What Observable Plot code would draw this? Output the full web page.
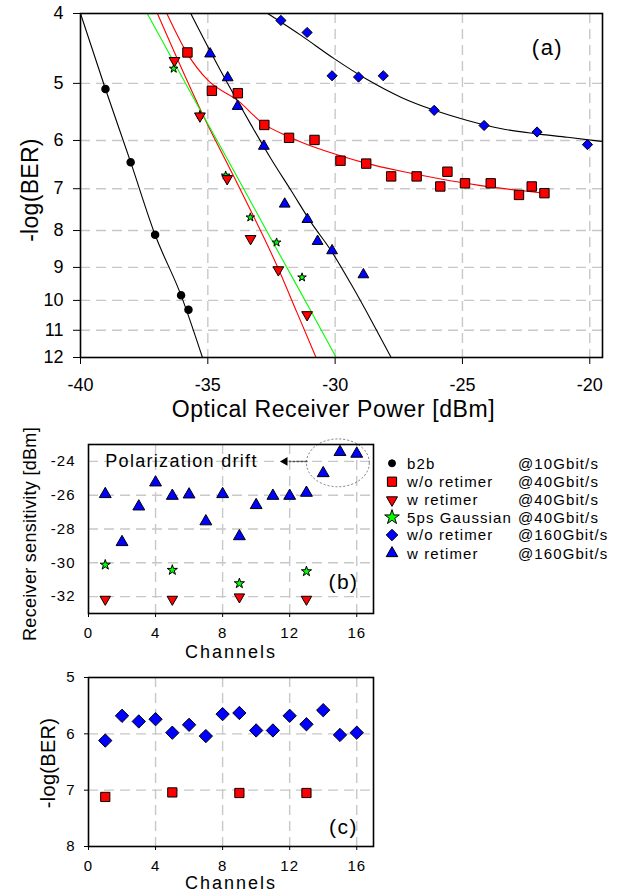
<!DOCTYPE html>
<html><head><meta charset="utf-8">
<script src="https://cdn.jsdelivr.net/npm/d3@7"></script>
<script src="https://cdn.jsdelivr.net/npm/@observablehq/plot@0.6"></script>
<style>
body{margin:0;background:#fff;}
#wrap{position:relative;width:635px;height:895px;overflow:hidden;background:#fff;}
.vlabel{position:absolute;white-space:nowrap;line-height:1;color:#000;transform:translate(-50%,-50%) rotate(-90deg);font-family:'Liberation Sans',Arial,Helvetica,sans-serif;}
</style></head><body><div id="wrap"></div>
<script>
// ---------- Panel (a): BER vs optical receiver power ----------
const powerTicks = [-40, -35, -30, -25, -20];
const powerGrid = [-35, -30, -25, -20];
const berTicksA = [4, 5, 6, 7, 8, 9, 10, 11, 12];
const berGridA = [5, 6, 7, 8, 9, 10, 11];

// b2b @10Gbit/s
const b2bP = [-39.02, -38.03, -37.07, -36.05, -35.76];
const b2bB = [5.09, 6.43, 8.11, 9.84, 10.3];
// w/o retimer @40Gbit/s
const wo40P = [-35.8, -34.84, -33.82, -32.78, -31.81, -30.81, -29.79, -28.78, -27.8, -26.8, -25.87, -25.59, -24.9, -23.89, -22.78, -22.28, -21.78];
const wo40B = [4.53, 5.12, 5.16, 5.71, 5.95, 5.99, 6.40, 6.46, 6.73, 6.73, 6.95, 6.63, 6.88, 6.88, 7.14, 6.95, 7.10];
// w retimer @40Gbit/s
const w40P = [-36.31, -35.31, -34.24, -33.32, -32.23, -31.1];
const w40B = [4.65, 5.55, 6.78, 8.21, 9.07, 10.47];
// 5ps Gaussian @40Gbit/s
const gaussP = [-36.34, -35.31, -34.3, -33.33, -32.3, -31.3];
const gaussB = [4.77, 5.53, 6.71, 7.67, 8.31, 9.29];
// w/o retimer @160Gbit/s
const wo160P = [-32.13, -31.1, -30.12, -29.08, -28.11, -26.11, -24.15, -22.07, -20.09];
const wo160B = [4.09, 4.25, 4.88, 4.90, 4.88, 5.45, 5.72, 5.84, 6.08];
// w retimer @160Gbit/s
const w160P = [-34.91, -34.22, -33.83, -32.8, -31.98, -31.09, -30.69, -30.12, -28.89];
const w160B = [4.55, 4.91, 5.38, 6.11, 7.35, 7.72, 8.28, 8.53, 9.21];

// fitted curves
const fitB2bP = [-40, -39.02, -38.03, -37.07, -36.05, -35.21];
const fitB2bB = [4, 5.09, 6.43, 8.11, 9.84, 12];
const fitWo40P = [-36.61, -35.8, -35.0, -33.83, -32.78, -31.86, -31.3, -29.8, -28.8, -27.4, -25.9, -24.4, -22.9, -21.8];
const fitWo40B = [4, 4.55, 4.95, 5.28, 5.7, 5.92, 6.04, 6.3, 6.45, 6.62, 6.78, 6.92, 7.03, 7.1];
const fitW40P = [-36.98, -35.15, -33.9, -32.26, -31.5, -30.75];
const fitW40B = [4, 5.57, 6.82, 8.99, 10.39, 12];
const fitGaussP = [-37.38, -35.28, -33.7, -32.13, -30.94, -29.96];
const fitGaussB = [4, 5.46, 6.89, 8.7, 10.36, 12];
const fitWo160P = [-32.65, -31.34, -30.04, -28.74, -27.4, -26.1, -24.8, -23.46, -22.17, -20.87, -19.5];
const fitWo160B = [4, 4.29, 4.62, 4.94, 5.23, 5.45, 5.63, 5.78, 5.87, 5.94, 6.02];
const fitW160P = [-35.67, -34.88, -34.09, -33.31, -32.52, -31.73, -30.94, -30.16, -29.37, -28.58, -27.8];
const fitW160B = [4, 4.53, 5.10, 5.70, 6.36, 7.04, 7.80, 8.53, 9.50, 10.66, 12];

// ---------- Panel (b): receiver sensitivity vs channel ----------
const channels = [1, 2, 3, 4, 5, 6, 7, 8, 9, 10, 11, 12, 13, 14, 15, 16];
const sampledChannels = [1, 5, 9, 13];
const chTicks = [0, 4, 8, 12, 16];
const chGrid = [4, 8, 12, 16];
const sensTicks = [-24, -26, -28, -30, -32];
const sensW160 = [-25.94, -28.78, -26.67, -25.25, -26.04, -25.96, -27.55, -25.94, -28.43, -26.59, -26.04, -26.04, -25.86, -24.7, -23.45, -23.55];
const sensGauss = [-30.12, -30.43, -31.22, -30.51];
const sensW40 = [-32.16, -32.16, -32.02, -32.16];

// ---------- Panel (c): -log(BER) vs channel ----------
const berTicksC = [5, 6, 7, 8];
const berGridC = [6, 7];
const berWo160 = [6.12, 5.68, 5.78, 5.74, 5.98, 5.84, 6.04, 5.65, 5.63, 5.94, 5.94, 5.68, 5.83, 5.58, 6.02, 5.98];
const berWo40 = [7.12, 7.04, 7.05, 7.05];

// ---------- Legend and titles ----------
const seriesNames = ["b2b", "w/o retimer", "w retimer", "5ps Gaussian", "w/o retimer", "w retimer"];
const seriesRates = ["@10Gbit/s", "@40Gbit/s", "@40Gbit/s", "@40Gbit/s", "@160Gbit/s", "@160Gbit/s"];
const titleBER = "-log(BER)";
const titlePower = "Optical Receiver Power [dBm]";
const titleSens = "Receiver sensitivity [dBm]";
const titleChannels = "Channels";
const annotation = "Polarization drift";

// ---------- helpers ----------
const FONT = "'Liberation Sans', Arial, Helvetica, sans-serif";
const RED = "#ff0000", BLUE = "#0000ff", GREEN = "#00ff00", GRID = "#c8c8c8";
const pts = (xs, ys) => xs.map((x, i) => ({x, y: ys[i]}));
const wrap = document.getElementById("wrap");
function place(el, left, top) {
  el.style.position = "absolute";
  el.style.left = left + "px";
  el.style.top = top + "px";
  wrap.appendChild(el);
  return el;
}
function vlabel(text, cx, cy, size, ls) {
  const d = document.createElement("div");
  d.className = "vlabel";
  d.textContent = text;
  d.style.left = cx + "px";
  d.style.top = cy + "px";
  d.style.fontSize = size + "px";
  d.style.letterSpacing = (ls || 0) + "px";
  wrap.appendChild(d);
}
function spacing(svg, text, ls) {
  d3.select(svg).selectAll("text").filter(function () { return this.textContent === text; }).attr("letter-spacing", ls);
}
const label = (txt, opts) => Plot.text([txt], {text: d => d, textAnchor: "middle", lineAnchor: "middle", ...opts});
const fitLine = (xs, ys, stroke) => Plot.line(pts(xs, ys), {x: "x", y: "y", stroke, strokeWidth: 1.1, curve: "monotone-x"});
const gridV = (vals) => Plot.ruleX(vals, {stroke: GRID, strokeWidth: 1.4, strokeDasharray: "10,6"});
const gridH = (vals) => Plot.ruleY(vals, {stroke: GRID, strokeWidth: 1.4, strokeDasharray: "10,6"});

// ---------- Panel (a) ----------
const plotA = Plot.plot({
  width: 635, height: 425,
  marginTop: 13, marginLeft: 80, marginRight: 33, marginBottom: 68,
  style: {fontFamily: FONT, fontSize: "18px", color: "black", background: "transparent", overflow: "visible"},
  x: {domain: [-40, -19.5], ticks: powerTicks, tickFormat: d => String(d), tickSize: 7, tickPadding: 14, label: null},
  y: {type: "log", domain: [4, 12], reverse: true, ticks: berTicksA, tickFormat: d => String(d), tickSize: 7, tickPadding: 10, label: null},
  marks: [
    gridV(powerGrid),
    gridH(berGridA),
    fitLine(fitB2bP, fitB2bB, "black"),
    fitLine(fitWo40P, fitWo40B, RED),
    fitLine(fitW40P, fitW40B, RED),
    fitLine(fitGaussP, fitGaussB, GREEN),
    fitLine(fitWo160P, fitWo160B, "black"),
    fitLine(fitW160P, fitW160B, "black"),
    Plot.dot(pts(b2bP, b2bB), {x: "x", y: "y", r: 3.5, fill: "black", stroke: "black"}),
    Plot.dot(pts(wo40P, wo40B), {x: "x", y: "y", symbol: "square", r: 5.3, fill: RED, stroke: "black", strokeWidth: 1}),
    Plot.dot(pts(w160P, w160B), {x: "x", y: "y", symbol: "triangle", r: 4, fill: BLUE, stroke: "black", strokeWidth: 1}),
    Plot.dot(pts(wo160P, wo160B), {x: "x", y: "y", symbol: "diamond2", r: 4.6, fill: BLUE, stroke: "black", strokeWidth: 1}),
    Plot.dot(pts(gaussP, gaussB), {x: "x", y: "y", symbol: "star", r: 2.7, fill: GREEN, stroke: "black", strokeWidth: 1}),
    Plot.dot(pts(w40P, w40B), {x: "x", y: "y", symbol: "triangle", rotate: 180, r: 4, fill: RED, stroke: "black", strokeWidth: 1}),
    Plot.frame({stroke: "black", strokeWidth: 1.6}),
    label("(a)", {frameAnchor: "top-right", dx: -55, dy: 34, fontSize: 22}),
    label(titlePower, {frameAnchor: "bottom", dx: -8, dy: 52, fontSize: 23})
  ]
});
spacing(plotA, titlePower, 0.6);
spacing(plotA, "(a)", 1.5);
place(plotA, 0, 0);
vlabel(titleBER, 30, 190, 23, 0.3);

// ---------- Panel (b) ----------
function ellipseMark(x0, x1, y0, y1) {
  return (index, scales) => {
    const X = scales.x, Y = scales.y;
    return d3.create("svg:ellipse")
      .attr("cx", (X(x0) + X(x1)) / 2).attr("cy", (Y(y0) + Y(y1)) / 2)
      .attr("rx", Math.abs(X(x1) - X(x0)) / 2).attr("ry", Math.abs(Y(y1) - Y(y0)) / 2)
      .attr("fill", "none").attr("stroke", "#777").attr("stroke-width", 1)
      .attr("stroke-dasharray", "2,2").node();
  };
}
const plotB = Plot.plot({
  width: 380, height: 245,
  marginTop: 24, marginLeft: 88, marginRight: 7, marginBottom: 52,
  style: {fontFamily: FONT, fontSize: "15px", color: "black", background: "transparent", overflow: "visible"},
  x: {domain: [0, 17], ticks: chTicks, tickFormat: d => String(d), tickSize: 4, tickPadding: 10, label: null},
  y: {domain: [-33, -23], ticks: sensTicks, tickFormat: d => String(d), tickSize: 0, tickPadding: 13, label: null},
  marks: [
    gridV(chGrid),
    gridH(sensTicks),
    ellipseMark(13.03, 16.78, -25.53, -22.7),
    Plot.line([{x: 13.03, y: -24}, {x: 12.0, y: -24}], {x: "x", y: "y", stroke: "#555", strokeDasharray: "2,2"}),
    Plot.dot([{x: 11.72, y: -24}], {x: "x", y: "y", symbol: "triangle", rotate: -90, r: 3.2, fill: "black"}),
    Plot.text([annotation], {text: d => d, x: 1.0, y: -24, textAnchor: "start", lineAnchor: "middle", fontSize: 18}),
    Plot.dot(pts(channels, sensW160), {x: "x", y: "y", symbol: "triangle", r: 4.4, fill: BLUE, stroke: "black", strokeWidth: 1}),
    Plot.dot(pts(sampledChannels, sensGauss), {x: "x", y: "y", symbol: "star", r: 3.2, fill: GREEN, stroke: "black", strokeWidth: 1}),
    Plot.dot(pts(sampledChannels, sensW40), {x: "x", y: "y", symbol: "triangle", rotate: 180, r: 3.9, fill: RED, stroke: "black", strokeWidth: 1}),
    Plot.frame({stroke: "black", strokeWidth: 1.6}),
    label("(b)", {frameAnchor: "bottom-right", dx: -30, dy: -31, fontSize: 21}),
    label(titleChannels, {frameAnchor: "bottom", dy: 39, fontSize: 18})
  ]
});
spacing(plotB, annotation, 1.3);
spacing(plotB, titleChannels, 2);
spacing(plotB, "(b)", 1.5);
d3.select(plotB).selectAll("g[aria-label='x-axis tick label'] text, g[aria-label='y-axis tick label'] text").attr("letter-spacing", 1);
place(plotB, 0, 420);
vlabel(titleSens, 30, 534, 18, 0.3);

// ---------- Legend ----------
const legendSyms = [
  {type: d3.symbolCircle, r: 3.5, fill: "black", rot: 0},
  {type: d3.symbolSquare, r: 5.2, fill: RED, rot: 0},
  {type: d3.symbolTriangle, r: 4.1, fill: RED, rot: 180},
  {type: d3.symbolStar, r: 4.6, fill: GREEN, rot: 0},
  {type: d3.symbolDiamond2, r: 5.2, fill: BLUE, rot: 0},
  {type: d3.symbolTriangle, r: 4.3, fill: BLUE, rot: 0}
];
const rowY = [13.3, 31.7, 50, 67.3, 85, 103.3];
const leg = d3.create("svg").attr("width", 255).attr("height", 115)
  .style("font-family", FONT).style("font-size", "15px");
seriesNames.forEach((name, i) => {
  const s = legendSyms[i];
  leg.append("path")
    .attr("d", d3.symbol(s.type, Math.PI * s.r * s.r)())
    .attr("transform", `translate(12,${rowY[i]}) rotate(${s.rot})`)
    .attr("fill", s.fill).attr("stroke", "black").attr("stroke-width", 1);
  leg.append("text").attr("x", 27).attr("y", rowY[i]).attr("dy", "0.35em")
    .attr("letter-spacing", 1.1).text(name);
  leg.append("text").attr("x", 138).attr("y", rowY[i]).attr("dy", "0.35em")
    .attr("letter-spacing", 1.1).text(seriesRates[i]);
});
place(leg.node(), 380, 450);

// ---------- Panel (c) ----------
const plotC = Plot.plot({
  width: 380, height: 230,
  marginTop: 12, marginLeft: 88, marginRight: 7, marginBottom: 49,
  style: {fontFamily: FONT, fontSize: "15px", color: "black", background: "transparent", overflow: "visible"},
  x: {domain: [0, 17], ticks: chTicks, tickFormat: d => String(d), tickSize: 4, tickPadding: 10, label: null},
  y: {domain: [5, 8], reverse: true, ticks: berTicksC, tickFormat: d => String(d), tickSize: 4, tickPadding: 9, label: null},
  marks: [
    gridV(chGrid),
    gridH(berGridC),
    Plot.dot(pts(channels, berWo160), {x: "x", y: "y", symbol: "diamond2", r: 6, fill: BLUE, stroke: "black", strokeWidth: 1}),
    Plot.dot(pts(sampledChannels, berWo40), {x: "x", y: "y", symbol: "square", r: 5.2, fill: RED, stroke: "black", strokeWidth: 1}),
    Plot.frame({stroke: "black", strokeWidth: 1.6}),
    label("(c)", {frameAnchor: "bottom-right", dx: -30, dy: -19, fontSize: 21}),
    label(titleChannels, {frameAnchor: "bottom", dy: 37, fontSize: 18})
  ]
});
spacing(plotC, titleChannels, 2);
spacing(plotC, "(c)", 1.5);
d3.select(plotC).selectAll("g[aria-label='x-axis tick label'] text, g[aria-label='y-axis tick label'] text").attr("letter-spacing", 1);
place(plotC, 0, 665);
vlabel(titleBER, 48, 763, 20, 0.3);
</script>
</body></html>
